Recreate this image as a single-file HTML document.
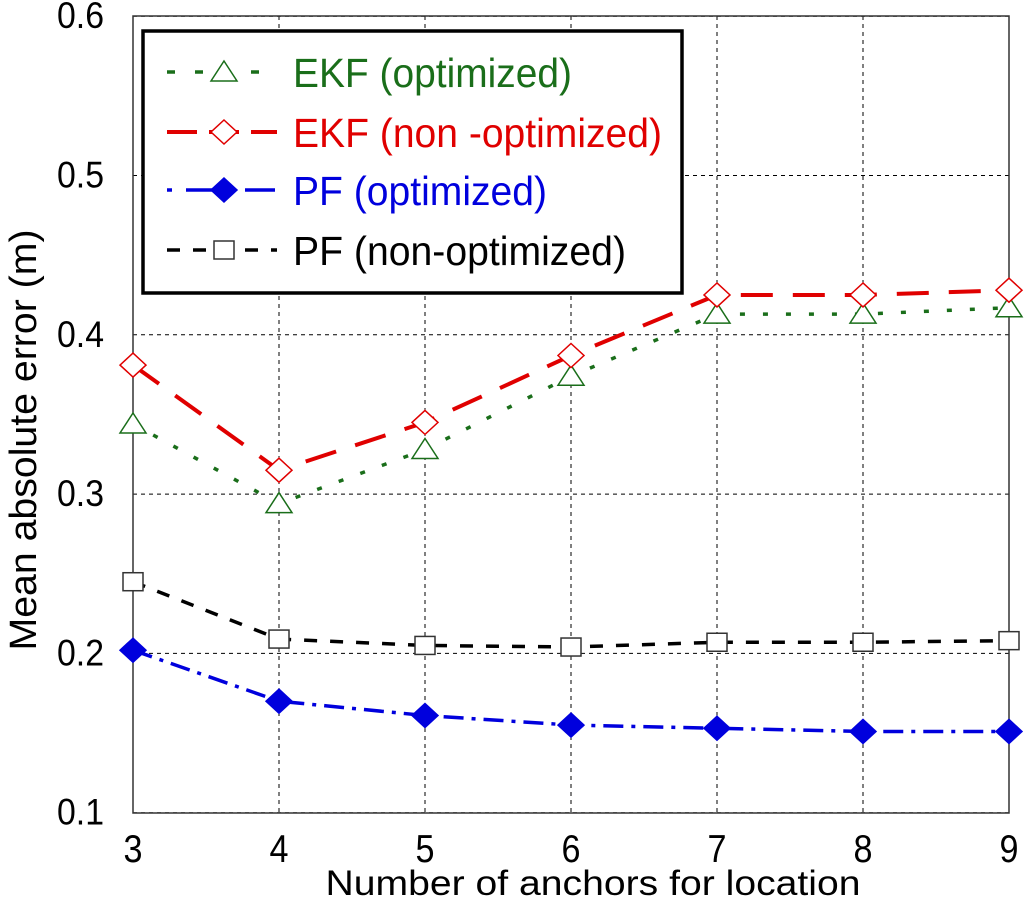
<!DOCTYPE html>
<html><head><meta charset="utf-8"><style>
html,body{margin:0;padding:0;background:#fff;}
svg{display:block;font-family:"Liberation Sans",Arial,sans-serif;}
</style></head><body>
<svg id="chart" width="1024" height="905" viewBox="0 0 1024 905">
<g id="grid"></g>
<rect x="133" y="16" width="876" height="797" fill="none" stroke="#333" stroke-width="1.5"/>
<g id="series"></g>
<g id="ticks"></g>
<text x="593" y="895" font-size="35" text-anchor="middle" textLength="535" lengthAdjust="spacingAndGlyphs">Number of anchors for location</text>
<text transform="translate(36,440) rotate(-90)" font-size="38" text-anchor="middle" textLength="421" lengthAdjust="spacingAndGlyphs">Mean absolute error (m)</text>
<g>
<rect x="143" y="31" width="539" height="262" fill="#fff" stroke="#000" stroke-width="3.5"/>
<g id="legend"></g>
</g>
</svg>
<script>
const categories=[3,4,5,6,7,8,9];
const yTicks=[0.1,0.2,0.3,0.4,0.5,0.6];
const ekfOpt=[0.344,0.294,0.328,0.374,0.413,0.413,0.417];
const ekfNon=[0.381,0.315,0.345,0.387,0.425,0.425,0.428];
const pfOpt=[0.202,0.170,0.161,0.155,0.153,0.151,0.151];
const pfNon=[0.245,0.209,0.205,0.204,0.207,0.207,0.208];
const names=["EKF (optimized)","EKF (non -optimized)","PF (optimized)","PF (non-optimized)"];

const NS="http://www.w3.org/2000/svg";
const X=v=>133+(v-3)*146;
const Y=v=>812.7-(v-0.1)*1593;
function mk(tag,attrs,parent){const e=document.createElementNS(NS,tag);for(const k in attrs)e.setAttribute(k,attrs[k]);parent.appendChild(e);return e;}
const grid=document.getElementById('grid'),ticks=document.getElementById('ticks'),ser=document.getElementById('series'),leg=document.getElementById('legend');
categories.forEach(c=>{
  const l=mk('line',{x1:X(c),x2:X(c),y1:16,y2:813,stroke:'#000','stroke-width':1,'stroke-dasharray':'4,4'},grid);
  
  
  const t=mk('text',{x:X(c),y:862,'font-size':39,'text-anchor':'middle',textLength:19,lengthAdjust:'spacingAndGlyphs'},ticks);t.textContent=c;
  
  
});
yTicks.forEach(v=>{
  const l=mk('line',{x1:133,x2:1009,y1:Y(v),y2:Y(v),stroke:'#000','stroke-width':1,'stroke-dasharray':'4,4'},grid);
  
  
  const t=mk('text',{x:57,y:Y(v)+12,'font-size':37,textLength:47,lengthAdjust:'spacingAndGlyphs'},ticks);t.textContent=v.toFixed(1);
  
  
});
function marker(kind,x,y,color,parent){
  let e;
  if(kind==='tri') e=mk('polygon',{points:`${x},${y-11} ${x+13},${y+9} ${x-13},${y+9}`,fill:'#fff',stroke:color,'stroke-width':1.5},parent);
  else if(kind==='dia') e=mk('polygon',{points:`${x},${y-12} ${x+13},${y} ${x},${y+12} ${x-13},${y}`,fill:'#fff',stroke:color,'stroke-width':1.5},parent);
  else if(kind==='fdia') e=mk('polygon',{points:`${x},${y-12} ${x+13},${y} ${x},${y+12} ${x-13},${y}`,fill:color,stroke:color,'stroke-width':1.5},parent);
  else e=mk('rect',{x:x-10,y:y-9,width:20,height:18,fill:'#fff',stroke:'#333','stroke-width':1.5},parent);
  return e;
}
const specs=[
  {d:ekfOpt,c:'#1a6e1a',dash:'5,18',w:3.5,m:'tri',n:'ekf-optimized',ld:'8,20'},
  {d:ekfNon,c:'#e00000',dash:'32,20',w:4,m:'dia',n:'ekf-non-optimized',ld:'30,12'},
  {d:pfOpt,c:'#0000dd',dash:'20,8,4,8',w:3.5,m:'fdia',n:'pf-optimized',ld:'5,14,30,10'},
  {d:pfNon,c:'#000',dash:'13,13',w:3.5,m:'sq',n:'pf-non-optimized',ld:'13,13'}
];
const lens=[279,369,254,333];
specs.forEach((s,i)=>{
  const g=mk('g',{},ser);
  
  
  const p=mk('polyline',{points:s.d.map((v,j)=>X(categories[j])+','+Y(v)).join(' '),fill:'none',stroke:s.c,'stroke-width':s.w,'stroke-dasharray':s.dash},g);
  
  
  s.d.forEach((v,j)=>{const m=marker(s.m,X(categories[j]),Y(v),s.c,g);
    
    });
  const ly=[72,132,190,250][i];
  const lg=mk('g',{},leg);
  
  
  mk('line',{x1:167,x2:277,y1:ly,y2:ly,stroke:s.c,'stroke-width':s.w,'stroke-dasharray':s.ld},lg);
  marker(s.m,224,ly,s.c,lg);
  const t=mk('text',{x:293,y:ly+15,'font-size':41,fill:s.c,textLength:lens[i],lengthAdjust:'spacingAndGlyphs'},lg);t.textContent=names[i];
});
</script>
</body></html>
